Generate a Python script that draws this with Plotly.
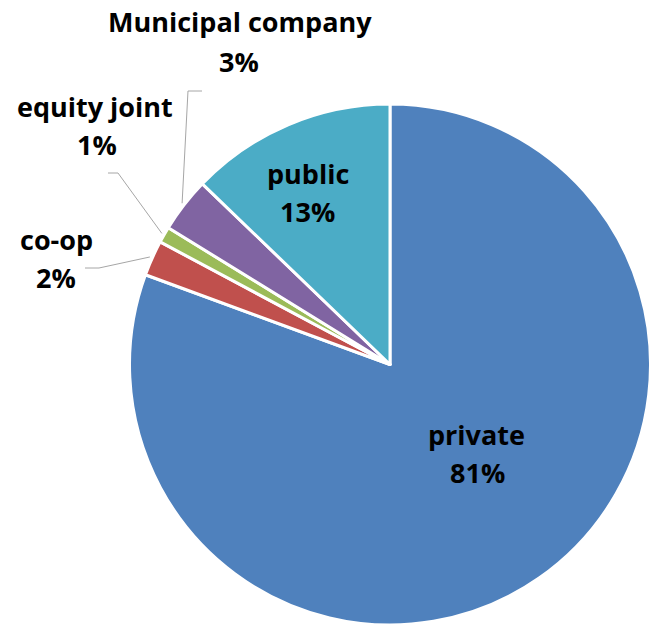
import math
import plotly.graph_objects as go

# ---- data ----
labels = ["private", "co-op", "equity joint", "Municipal company", "public"]
values = [80.6, 2.2, 1.0, 3.4, 12.8]
colors = ["#4F81BD", "#C0504D", "#9BBB59", "#8064A2", "#4BACC6"]

W, H = 652, 626
CX, CY, R = 390.0, 364.5, 260.5  # pie centre / radius in px

def px(x):
    return x / W

def py(y):
    return 1 - y / H

total = sum(values)
pcts = [round(v / total * 100) for v in values]

fig = go.Figure(go.Pie(
    labels=labels,
    values=values,
    sort=False,
    direction="clockwise",
    rotation=0,
    marker=dict(colors=colors, line=dict(color="white", width=3)),
    textinfo="none",
    hoverinfo="label+percent",
    showlegend=False,
    domain=dict(x=[px(CX - R), px(CX + R)], y=[py(CY + R), py(CY - R)]),
))

FS = 27
FONT = dict(family="Open Sans", size=FS, color="#000000", weight="bold")

# label placement: (x centre of name, baseline name, x centre pct, baseline pct)
place = {
    "private": (476.5, 445, 477, 483),
    "co-op": (56, 250, 56, 288),
    "equity joint": (95, 117, 97, 155),
    "Municipal company": (240, 32, 239, 72),
    "public": (308, 184, 307, 222),
}
ann = []
for lab, p in zip(labels, pcts):
    xn, bn, xp, bp = place[lab]
    for txt, xx, bb in ((lab, xn, bn), (f"{p}%", xp, bp)):
        ann.append(dict(text=txt, x=px(xx), y=py(bb - 0.388 * FS), xref="paper", yref="paper",
                        xanchor="center", yanchor="middle", showarrow=False, font=FONT))

# leader lines for the small outside-labelled slices
elbows = {
    "co-op": [(85, 268), (99, 268)],
    "equity joint": [(108, 173), (118, 173)],
    "Municipal company": [(202, 91), (188, 91)],
}
shapes = []
cum = 0.0
for lab, v in zip(labels, values):
    mid = (cum + v / 2) / total * 2 * math.pi
    cum += v
    if lab in elbows:
        ex = CX + R * 1.01 * math.sin(mid)
        ey = CY - R * 1.01 * math.cos(mid)
        pts = elbows[lab] + [(ex, ey)]
        path = "M " + " L ".join(f"{px(a):.5f},{py(b):.5f}" for a, b in pts)
        shapes.append(dict(type="path", path=path, xref="paper", yref="paper",
                           line=dict(color="#A6A6A6", width=1)))

fig.update_layout(
    width=W, height=H,
    margin=dict(l=0, r=0, t=0, b=0),
    paper_bgcolor="white",
    annotations=ann,
    shapes=shapes,
)

fig.write_html("out.html", config={"displayModeBar": False},
               post_script="document.body.style.margin='0';")
